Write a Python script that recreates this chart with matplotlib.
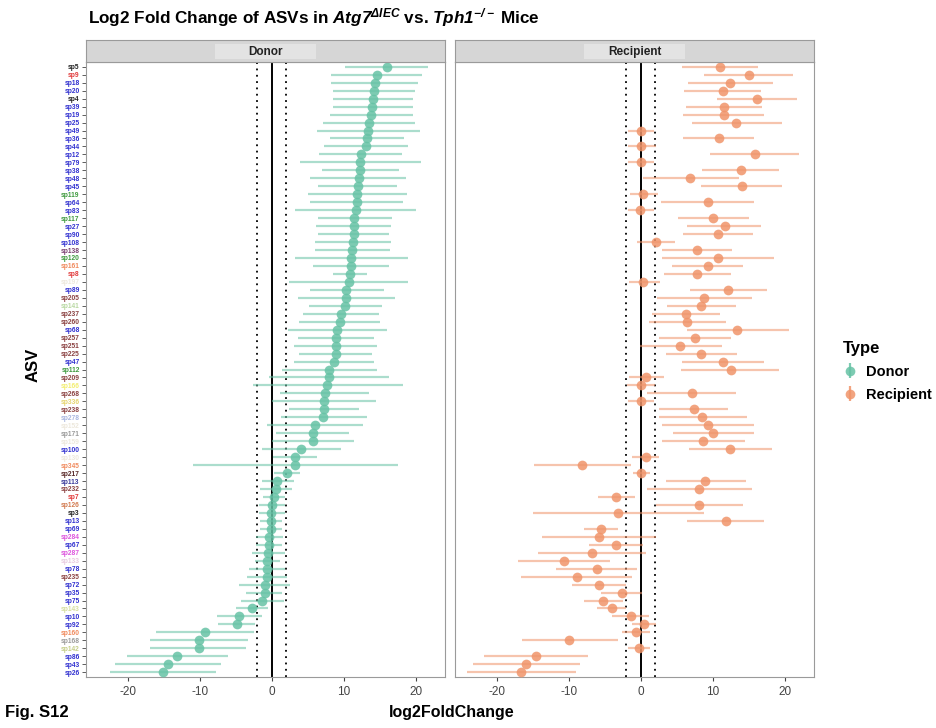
import matplotlib
matplotlib.use('Agg')
import matplotlib.pyplot as plt
from matplotlib.patches import Rectangle
import numpy as np

plt.rcParams['font.family'] = ['Liberation Sans', 'DejaVu Sans']
plt.rcParams['mathtext.fontset'] = 'custom'
# only the gene names in the title use mathtext, so italic everywhere there
plt.rcParams['mathtext.it'] = 'Liberation Sans:bold:italic'
plt.rcParams['mathtext.rm'] = 'Liberation Sans:bold:italic'
plt.rcParams['axes.unicode_minus'] = False

# ASV rows, top to bottom
asv = ['sp5','sp9','sp18','sp20','sp4','sp39','sp19','sp25','sp49','sp36',
       'sp44','sp12','sp79','sp38','sp48','sp45','sp119','sp64','sp83','sp117',
       'sp27','sp90','sp108','sp138','sp120','sp161','sp8','sp197','sp89','sp205',
       'sp141','sp237','sp260','sp68','sp257','sp251','sp225','sp47','sp112','sp209',
       'sp166','sp268','sp336','sp238','sp278','sp152','sp171','sp159','sp100','sp130',
       'sp345','sp217','sp113','sp232','sp7','sp126','sp3','sp13','sp69','sp284',
       'sp67','sp287','sp133','sp78','sp235','sp72','sp35','sp75','sp143','sp10',
       'sp92','sp160','sp168','sp142','sp86','sp43','sp26']

# label colour groups (taxonomy colours in the original)
label_group = ['k','red','blue','blue','k','blue','blue','blue','blue','blue',
               'blue','blue','blue','blue','blue','blue','green','blue','blue','green',
               'blue','blue','blue','purple','green','orange','red','faint','blue','brown',
               'ltgreen','brown','brown','blue','brown','brown','brown','blue','green','brown',
               'yellow','brown','yellow2','brown','ltblue','faint','grey','faint','blue','faint',
               'orange','dkbrown','navy','brown','red','orange2','k','blue','blue','magenta',
               'blue','magenta','pink','blue','brown','blue','blue','blue','olive','blue',
               'blue','orange','grey','olive2','blue','blue','blue']

group_colors = {'k': '#222222', 'red': '#E23B3B', 'blue': '#3030D0', 'green': '#3F9A3F',
                'purple': '#7A3F70', 'orange': '#F08A5D', 'faint': '#EDE8DC', 'brown': '#8A4040',
                'ltgreen': '#B9D9A2', 'yellow': '#F3EE70', 'yellow2': '#E6D56E', 'ltblue': '#A8B6E0',
                'grey': '#9A9A9A', 'dkbrown': '#5A2A2A', 'navy': '#3A3A9A', 'orange2': '#D27B50',
                'magenta': '#DD55DD', 'pink': '#E8CBE0', 'olive': '#D6DE9E', 'olive2': '#C5CE88'}

donor_lfc = [16.0,14.6,14.4,14.2,14.1,14.0,13.8,13.6,13.4,13.2,
             13.1,12.4,12.3,12.3,12.1,12.0,11.9,11.8,11.7,11.5,
             11.5,11.4,11.3,11.2,11.0,11.0,10.9,10.8,10.4,10.3,
             10.2,9.6,9.5,9.1,9.0,8.9,8.9,8.7,8.0,8.0,
             7.7,7.4,7.3,7.3,7.2,6.0,5.7,5.7,4.1,3.3,
             3.2,2.1,0.8,0.6,0.3,0.0,-0.1,-0.1,-0.1,-0.3,
             -0.4,-0.5,-0.6,-0.6,-0.7,-0.9,-0.9,-1.3,-2.7,-4.5,
             -4.8,-9.3,-10.1,-10.1,-13.1,-14.4,-15.1]
donor_lo = [10.2,8.3,8.3,8.6,8.6,8.5,8.1,7.2,6.3,8.1,
            7.3,6.6,3.9,7.0,5.3,6.5,5.0,5.3,3.3,6.4,
            6.2,6.4,6.0,6.0,3.2,5.8,8.6,2.4,5.3,3.7,
            5.2,4.4,3.8,2.3,3.7,3.1,3.8,3.1,1.4,-0.3,
            -2.6,1.2,0.1,2.4,1.3,-0.7,0.6,0.0,-1.4,0.2,
            -10.9,0.3,-1.4,-1.6,-1.2,-1.8,-1.7,-1.6,-1.6,-2.2,
            -2.2,-2.7,-2.3,-3.1,-3.4,-4.5,-3.5,-4.3,-4.9,-7.6,
            -7.4,-16.1,-16.9,-16.9,-20.1,-21.7,-22.4]
donor_hi = [21.7,20.9,20.3,19.9,19.6,19.6,19.6,19.9,20.6,18.4,
            18.9,18.1,20.8,17.7,18.7,17.4,18.8,18.3,20.1,16.8,
            16.6,16.3,16.6,16.5,18.9,16.3,13.3,19.0,15.6,17.1,
            15.3,14.9,15.1,16.1,14.2,14.7,14.0,14.3,14.7,16.3,
            18.2,13.6,14.5,12.2,13.2,12.7,10.8,11.4,9.7,6.3,
            17.5,4.0,3.1,2.8,1.8,1.9,1.8,1.5,1.4,1.6,
            1.5,1.8,1.2,1.9,2.1,2.5,1.5,1.7,-0.5,-1.4,
            -2.3,-2.5,-3.3,-3.5,-6.1,-7.1,-7.7]

recip_lfc = [11.0,15.0,12.4,11.4,16.2,11.6,11.6,13.3,0.0,10.9,
             0.0,15.9,0.0,14.0,6.9,14.1,0.3,9.3,-0.1,10.1,
             11.7,10.7,2.1,7.9,10.8,9.3,7.8,0.4,12.2,8.8,
             8.4,6.3,6.5,13.4,7.5,5.5,8.4,11.4,12.5,0.7,
             0.0,7.1,0.0,7.4,8.6,9.3,10.1,8.7,12.4,0.7,
             -8.1,0.1,9.0,8.1,-3.4,8.1,-3.1,11.9,-5.5,-5.8,
             -3.4,-6.7,-10.6,-6.1,-8.9,-5.8,-2.6,-5.2,-4.0,-1.4,
             0.5,-0.7,-9.9,-0.2,-14.5,-15.9,-16.6]
recip_lo = [5.7,8.8,6.6,6.0,10.6,6.3,5.9,7.1,-1.7,5.9,
            -1.7,9.7,-1.8,8.6,0.3,8.4,-1.5,2.8,-1.8,5.2,
            6.5,5.9,-0.5,3.0,3.0,4.3,3.2,-1.6,6.9,2.3,
            3.7,1.6,1.1,6.4,2.6,-0.1,3.5,5.7,5.6,-1.6,
            -1.9,0.9,-1.8,2.5,2.6,3.0,4.5,3.0,6.7,-1.2,
            -14.8,-1.0,3.5,0.9,-5.9,2.1,-14.9,6.4,-7.8,-13.7,
            -7.2,-14.3,-17.0,-11.7,-16.6,-9.5,-5.5,-7.9,-6.0,-4.0,
            -1.2,-2.6,-16.5,-1.8,-21.7,-23.3,-24.2]
recip_hi = [16.3,21.2,18.4,16.7,21.8,16.9,17.1,19.6,1.8,15.8,
            2.1,22.0,1.8,19.3,13.7,19.6,2.4,15.8,1.9,15.1,
            16.8,15.6,4.8,12.7,18.6,14.3,12.5,2.7,17.5,15.5,
            13.3,11.1,11.9,20.6,12.5,11.3,13.4,17.1,19.3,3.2,
            2.0,13.3,1.9,12.2,14.8,15.7,15.7,14.5,18.2,2.5,
            -1.3,1.3,14.6,15.5,-0.8,14.3,8.8,17.2,-3.2,2.1,
            0.4,0.8,-4.3,-0.5,-1.2,-2.0,0.2,-2.5,-2.0,1.1,
            2.1,1.3,-3.2,1.3,-7.3,-8.4,-9.0]

panels = [('Donor', donor_lfc, donor_lo, donor_hi, '#66C2A5'),
          ('Recipient', recip_lfc, recip_lo, recip_hi, '#F0946A')]

W, H = 937, 728
fig = plt.figure(figsize=(W/100, H/100), dpi=100)

y = np.arange(len(asv))
handles = []
for k, (name, lfc, lo, hi, col) in enumerate(panels):
    left = [86, 455][k]
    ax = fig.add_axes([left/W, 51/H, 359/W, 615/H])
    lfc = np.array(lfc); lo = np.array(lo); hi = np.array(hi)
    ax.hlines(y, lo, hi, color=col, alpha=0.55, lw=1.6, zorder=2)
    ax.plot(lfc, y, 'o', color=col, alpha=0.85, ms=7, mec='none', zorder=3)
    ax.axvline(0, color='black', lw=1.4, zorder=1)
    for v in (-2, 2):
        ax.axvline(v, color='black', lw=1.3, ls=(0, (1, 2.5)), zorder=1)
    ax.set_xlim(-25.8, 24.1)
    ax.set_ylim(len(asv) - 0.4, -0.6)
    ax.set_xticks([-20, -10, 0, 10, 20])
    ax.tick_params(axis='x', labelsize=8.5, colors='#444444', length=3, width=0.8)
    for sp in ax.spines.values():
        sp.set_color('#9a9a9a'); sp.set_linewidth(0.8)
    if k == 0:
        ax.set_yticks(y)
        ax.set_yticklabels(asv, fontsize=4.8, fontweight='bold')
        ax.tick_params(axis='y', length=3, width=0.6, pad=1.5, colors='#444444')
        for lab, g in zip(ax.get_yticklabels(), label_group):
            lab.set_color(group_colors[g])
    else:
        ax.set_yticks([])
    # facet strip with the lighter label box
    sax = fig.add_axes([left/W, 666/H, 359/W, 22/H])
    sax.set_facecolor('#D6D6D6')
    sax.set_xlim(0, 1); sax.set_ylim(0, 1)
    sax.set_xticks([]); sax.set_yticks([])
    for sp in sax.spines.values():
        sp.set_color('#9a9a9a'); sp.set_linewidth(0.8)
    sax.add_patch(Rectangle((0.36, 0.12), 0.28, 0.72, fc='#E3E3E3', ec='none'))
    sax.text(0.5, 0.47, name, ha='center', va='center', fontsize=8.5, fontweight='bold',
             color='#222222')
    # dummy point for legend glyph
    h = ax.errorbar([np.nan], [np.nan], yerr=[1], fmt='o', color=col, ms=7, mec='none',
                    ecolor=col, elinewidth=1.6, alpha=0.85)
    handles.append(h)

fig.text(88/W, 1 - 18/H, r'Log2 Fold Change of ASVs in $\mathit{Atg7}^{\mathit{ΔIEC}}$ vs. $\mathit{Tph1}^{\mathit{-/-}}$ Mice',
         fontsize=12.3, fontweight='bold', va='center', ha='left')
fig.text(452/W, 1 - 713/H, 'log2FoldChange', fontsize=11.5, fontweight='bold', ha='center', va='center')
fig.text(33/W, 1 - 365/H, 'ASV', fontsize=12, fontweight='bold', rotation=90, ha='center', va='center')
fig.text(5/W, 1 - 713/H, 'Fig. S12', fontsize=12, fontweight='bold', ha='left', va='center')

leg = fig.legend(handles, ['Donor', 'Recipient'], loc='upper left', bbox_to_anchor=(830/W, 1 - 328/H),
                 frameon=False, title='Type', prop={'weight': 'bold', 'size': 10.5},
                 handlelength=1.0, handletextpad=0.6, labelspacing=0.6)
leg.get_title().set_fontweight('bold')
leg.get_title().set_fontsize(12)
leg._legend_box.align = 'left'

fig.savefig('out.png', dpi=100)
